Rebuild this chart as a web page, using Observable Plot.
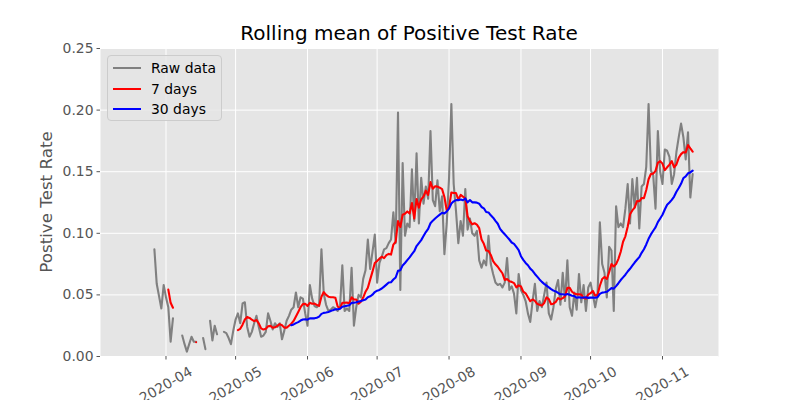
<!DOCTYPE html>
<html>
<head>
<meta charset="utf-8">
<script src="https://cdn.jsdelivr.net/npm/d3@7"></script>
<script src="https://cdn.jsdelivr.net/npm/@observablehq/plot@0.6"></script>
<style>
  body { margin: 0; background: #ffffff; }
  #chart { position: relative; width: 800px; height: 400px; font-family: "DejaVu Sans", sans-serif; }
  #chart svg { position: absolute; left: 0; top: 0; }
  .title { position: absolute; left: 100px; width: 618px; top: 23px; text-align: center; font-size: 20px; line-height: 20px; color: #000; white-space: nowrap; }
  .ylabel { position: absolute; left: 46px; top: 202px; font-size: 16.7px; line-height: 16.7px; color: #555555; white-space: nowrap; transform: translate(-50%, -50%) rotate(-90deg); }
  .legend { position: absolute; left: 107px; top: 55px; width: 115px; height: 66px; background: rgba(229,229,229,0.8); border: 1px solid #cccccc; border-radius: 4px; box-sizing: border-box; }
  .legend .row { position: absolute; left: 0; height: 20px; display: flex; align-items: center; font-size: 13.9px; color: #000; white-space: nowrap; }
  .legend .swatch { display: inline-block; width: 28px; height: 2px; margin-left: 5px; margin-right: 10px; }
</style>
</head>
<body>
<div id="chart"></div>
<script>
// Daily positive test rate, 2020-03-27 .. 2020-11-14 (NaN = no report that day)
const firstDay = "2020-03-27";
const mar = [0.087, 0.059, 0.049, 0.039, 0.058];
const apr = [0.048, 0.040, 0.012, 0.031, NaN, NaN, NaN, 0.017, 0.010, 0.004,
             0.010, 0.016, 0.012, 0.012, NaN, NaN, 0.015, 0.006, NaN, 0.029,
             0.013, 0.025, 0.018, NaN, NaN, 0.020, 0.019, 0.015, 0.010, 0.021];
const may = [0.030, 0.035, 0.027, 0.043, 0.044, 0.024, 0.016, 0.020, 0.027, 0.033,
             0.024, 0.016, 0.017, 0.020, 0.035, 0.029, 0.022, 0.027, 0.024, 0.027,
             0.014, 0.021, 0.029, 0.033, 0.038, 0.040, 0.052, 0.040, 0.048, 0.047, 0.035];
const jun = [0.025, 0.058, 0.047, 0.041, 0.040, 0.042, 0.087, 0.051, 0.042, 0.037,
             0.038, 0.040, 0.039, 0.037, 0.040, 0.074, 0.037, 0.039, 0.037, 0.072,
             0.025, 0.040, 0.050, 0.048, 0.063, 0.070, 0.095, 0.071, 0.085, 0.099];
const jul = [0.060, 0.076, 0.081, 0.087, 0.088, 0.092, 0.095, 0.117, 0.092, 0.198,
             0.054, 0.157, 0.098, 0.108, 0.105, 0.152, 0.110, 0.165, 0.108, 0.145,
             0.124, 0.138, 0.128, 0.183, 0.127, 0.122, 0.143, 0.118, 0.130, 0.083, 0.108];
const aug = [0.145, 0.205, 0.140, 0.118, 0.092, 0.110, 0.098, 0.136, 0.103, 0.112,
             0.100, 0.098, 0.102, 0.078, 0.072, 0.078, 0.074, 0.098, 0.075, 0.067,
             0.060, 0.058, 0.059, 0.056, 0.060, 0.080, 0.054, 0.057, 0.051, 0.035, 0.067];
const sep = [0.054, 0.050, 0.045, 0.035, 0.028, 0.045, 0.059, 0.037, 0.045, 0.040,
             0.050, 0.060, 0.035, 0.030, 0.040, 0.055, 0.062, 0.042, 0.068, 0.045,
             0.078, 0.040, 0.033, 0.052, 0.038, 0.067, 0.044, 0.058, 0.037, 0.056];
const oct = [0.060, 0.050, 0.040, 0.050, 0.109, 0.075, 0.068, 0.048, 0.089, 0.086,
             0.037, 0.122, 0.105, 0.108, 0.105, 0.120, 0.140, 0.108, 0.144, 0.121,
             0.145, 0.104, 0.138, 0.140, 0.154, 0.205, 0.151, 0.147, 0.120, 0.183, 0.150];
const nov = [0.140, 0.168, 0.167, 0.162, 0.140, 0.148, 0.166, 0.178, 0.189, 0.178,
             0.160, 0.182, 0.129, 0.148];

const yTicks = [0, 0.05, 0.10, 0.15, 0.20, 0.25];
const monthTicks = ["2020-04-01", "2020-05-01", "2020-06-01", "2020-07-01",
                    "2020-08-01", "2020-09-01", "2020-10-01", "2020-11-01"].map(d => new Date(d));
const xDomain = [new Date("2020-03-03T18:30Z"), new Date("2020-11-25T03:20Z")];

const start = new Date(firstDay);
const rates = [...mar, ...apr, ...may, ...jun, ...jul, ...aug, ...sep, ...oct, ...nov];
const rows = rates.map((rate, i) => ({date: d3.utcDay.offset(start, i), rate}));

const lw = 2.1;
const plot = Plot.plot({
  width: 800,
  height: 400,
  marginLeft: 100,
  marginRight: 82,
  marginTop: 48,
  marginBottom: 44,
  style: {fontFamily: "DejaVu Sans, sans-serif", fontSize: "13.9px", color: "#555555", background: "transparent", overflow: "visible"},
  x: {type: "utc", domain: xDomain},
  y: {domain: [0, 0.25]},
  marks: [
    Plot.frame({fill: "#E5E5E5", stroke: null}),
    Plot.gridY({ticks: yTicks, stroke: "#ffffff", strokeOpacity: 1, strokeWidth: 1}),
    Plot.gridX({ticks: monthTicks, stroke: "#ffffff", strokeOpacity: 1, strokeWidth: 1}),
    Plot.axisY({ticks: yTicks, tickFormat: d3.format(".2f"), tickSize: 3.5, tickPadding: 3.5, label: null, stroke: "#555555", fill: "#555555"}),
    Plot.axisX({ticks: monthTicks, tickFormat: d3.utcFormat("%Y-%m"), tickSize: 3.5, tickPadding: 25, tickRotate: -30,
                textAnchor: "middle", lineAnchor: "middle", label: null, stroke: "#555555", fill: "#555555"}),
    Plot.lineY(rows, {x: "date", y: "rate", stroke: "gray", strokeWidth: lw}),
    Plot.lineY(rows, Plot.windowY({k: 7, anchor: "end", reduce: "mean", strict: true},
                                  {x: "date", y: "rate", stroke: "red", strokeWidth: lw})),
    Plot.lineY(rows, Plot.windowY({k: 30, anchor: "end", reduce: "mean", strict: true},
                                  {x: "date", y: "rate", stroke: "blue", strokeWidth: lw}))
  ]
});

const chart = document.getElementById("chart");
chart.appendChild(plot);

const title = document.createElement("div");
title.className = "title";
title.textContent = "Rolling mean of Positive Test Rate";
chart.appendChild(title);

const ylabel = document.createElement("div");
ylabel.className = "ylabel";
ylabel.textContent = "Postive Test Rate";
chart.appendChild(ylabel);

const legendItems = [["Raw data", "gray"], ["7 days", "red"], ["30 days", "blue"]];
const legend = document.createElement("div");
legend.className = "legend";
legendItems.forEach(([name, color], i) => {
  const row = document.createElement("div");
  row.className = "row";
  row.style.top = (2 + i * 20.5) + "px";
  const sw = document.createElement("span");
  sw.className = "swatch";
  sw.style.background = color;
  const label = document.createElement("span");
  label.textContent = name;
  row.appendChild(sw);
  row.appendChild(label);
  legend.appendChild(row);
});
chart.appendChild(legend);
</script>
</body>
</html>
